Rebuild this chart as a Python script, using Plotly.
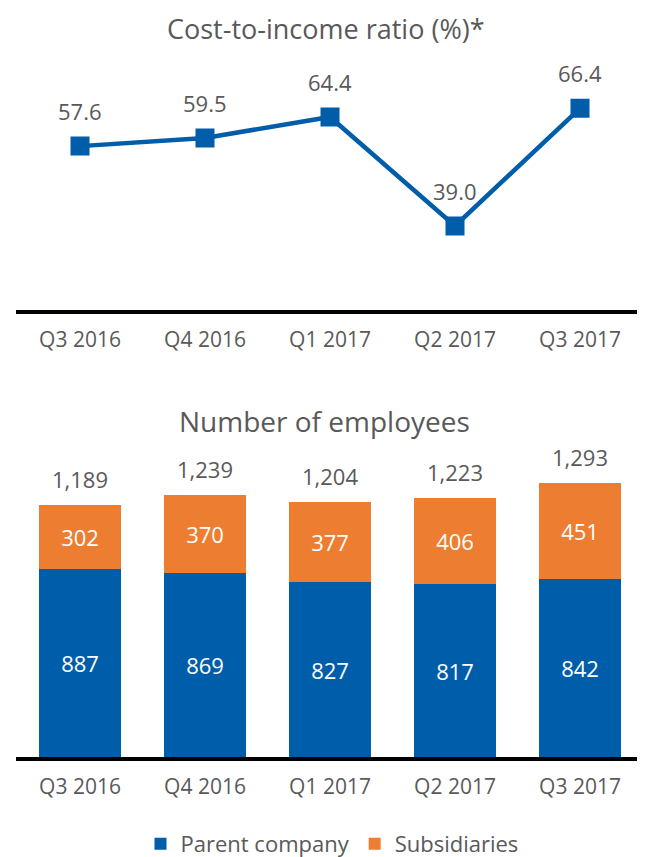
import plotly.graph_objects as go

quarters = ["Q3 2016", "Q4 2016", "Q1 2017", "Q2 2017", "Q3 2017"]
cost_income = [57.6, 59.5, 64.4, 39.0, 66.4]
parent = [887, 869, 827, 817, 842]
subsidiaries = [302, 370, 377, 406, 451]
totals = [1189, 1239, 1204, 1223, 1293]

W, H = 645, 857
OFF = 8  # default page body margin
FONT = "Open Sans, Lato, sans-serif"
GRAY = "#595959"
BLUE = "#005DAA"
ORANGE = "#ED7D31"

def px(p):
    return (p - OFF) / W

def py(p):
    return 1 - (p - OFF) / H

fig = go.Figure()

fig.add_trace(go.Scatter(
    x=quarters, y=cost_income, mode="lines+markers",
    line=dict(color=BLUE, width=4.5),
    marker=dict(symbol="square", size=19, color=BLUE),
    xaxis="x", yaxis="y", showlegend=False, hoverinfo="skip"))

fig.add_trace(go.Bar(
    x=quarters, y=parent, name="Parent company", marker_color=BLUE,
    marker_line_width=0,
    text=[str(v) for v in parent], textposition="inside", insidetextanchor="middle",
    textfont=dict(color="white", size=22, family=FONT),
    xaxis="x2", yaxis="y2"))
fig.add_trace(go.Bar(
    x=quarters, y=subsidiaries, name="Subsidiaries", marker_color=ORANGE,
    marker_line_width=0,
    text=[str(v) for v in subsidiaries], textposition="inside", insidetextanchor="middle",
    textfont=dict(color="white", size=22, family=FONT),
    xaxis="x2", yaxis="y2"))

annotations = []
for q, v in zip(quarters, cost_income):
    annotations.append(dict(x=q, y=v, xref="x", yref="y", text=f"{v:.1f}",
                            showarrow=False, yshift=35, yanchor="middle",
                            font=dict(size=22, color=GRAY, family=FONT)))
for q, v in zip(quarters, totals):
    annotations.append(dict(x=q, y=v, xref="x2", yref="y2", text=f"{v:,}",
                            showarrow=False, yshift=26, yanchor="middle",
                            font=dict(size=22, color=GRAY, family=FONT)))
annotations.append(dict(x=px(326), y=1.0, xref="paper", yref="paper",
                        text="Cost-to-income ratio (%)*", showarrow=False,
                        xanchor="center", yanchor="top",
                        font=dict(size=27, color=GRAY, family=FONT)))
annotations.append(dict(x=px(324), y=py(421), xref="paper", yref="paper",
                        text="Number of employees", showarrow=False,
                        xanchor="center", yanchor="middle",
                        font=dict(size=28, color=GRAY, family=FONT)))

xdom = [px(16), px(642)]
xr = [-0.512, 4.496]
axis_common = dict(domain=xdom, range=xr, showline=True, linecolor="black",
                   linewidth=4, ticks="", showgrid=False, zeroline=False,
                   ticklabelstandoff=8,
                   tickfont=dict(size=21, color=GRAY, family=FONT))

fig.update_layout(
    width=W, height=H, margin=dict(l=0, r=0, t=0, b=0),
    paper_bgcolor="white", plot_bgcolor="white",
    barmode="stack", bargap=0.344,
    font=dict(family=FONT, color=GRAY),
    xaxis=dict(**axis_common, anchor="y"),
    yaxis=dict(domain=[py(310), py(93)], range=[19.5, 70], visible=False),
    xaxis2=dict(**axis_common, anchor="y2"),
    yaxis2=dict(domain=[py(758), py(461)], range=[0, 1400], visible=False),
    annotations=annotations,
    legend=dict(orientation="h", x=px(332), xanchor="center", y=py(845),
                yanchor="middle", font=dict(size=22, color=GRAY, family=FONT),
                itemwidth=30, traceorder="normal"),
)

fig.write_html("out.html")
